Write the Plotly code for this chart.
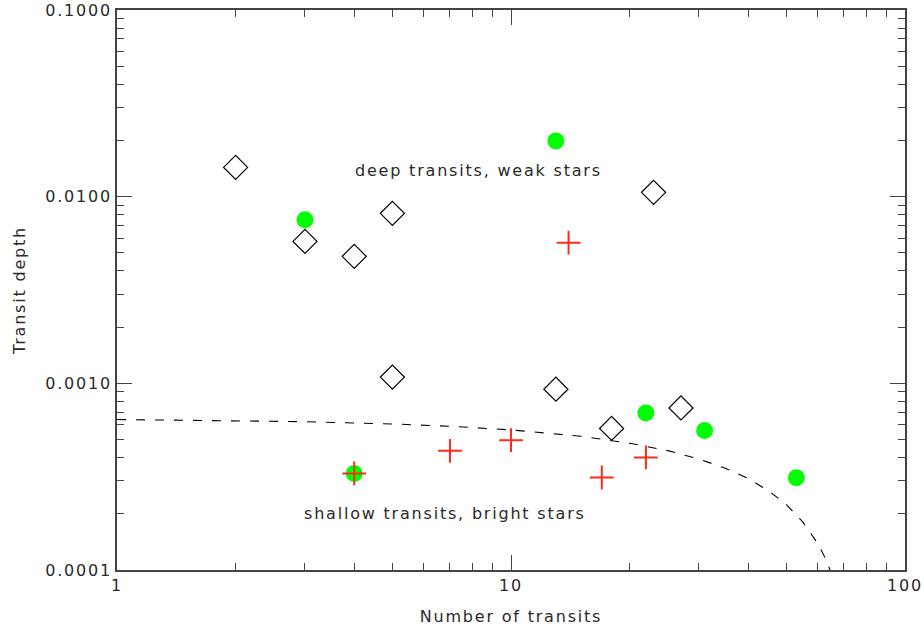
import numpy as np
import plotly.graph_objects as go

# Hollow diamonds
diamond_n = [2, 3, 4, 5, 5, 13, 23, 18, 27]
diamond_depth = [0.01435, 0.00576, 0.00479, 0.00814, 0.00108, 0.00093, 0.01055, 0.000573, 0.000738]

# Filled green circles
circle_n = [3, 13, 4, 22, 31, 53]
circle_depth = [0.00753, 0.0199, 0.000329, 0.000694, 0.000559, 0.000312]

# Red crosses
cross_n = [14, 4, 7, 10, 17, 22]
cross_depth = [0.00567, 0.000329, 0.000435, 0.000496, 0.000313, 0.000401]

# Detection limit curve (dashed)
limit_n = [1, 2, 3, 5, 7, 10, 15, 20, 25, 30, 35, 40, 45, 50, 55, 60, 62, 64, 66]
limit_depth = [0.00064, 0.000631, 0.000623, 0.000606, 0.000589, 0.000563, 0.000521,
               0.000478, 0.000436, 0.000393, 0.000351, 0.000309, 0.000266, 0.000224,
               0.000181, 0.000139, 0.000122, 0.000105, 0.0000848]

x_major = [1, 10, 100]
x_major_text = ["1", "10", "100"]
y_major = [0.0001, 0.001, 0.01, 0.1]
y_major_text = ["0.0001", "0.0010", "0.0100", "0.1000"]

x_minor = [m * d for d in (1, 10) for m in range(2, 10)]
y_minor = [m * d for d in (0.0001, 0.001, 0.01) for m in range(2, 10)]

FONT = "DejaVu Sans"
TXT = "#2a2a2a"
AX = "#444444"
SIZE = 16


def spaced(s, px=1.8):
    """Wrap text in a span with extra letter spacing."""
    return f'<span style="letter-spacing:{px}px">{s}</span>'


fig = go.Figure()

fig.add_trace(go.Scatter(
    x=limit_n, y=limit_depth, mode="lines",
    line=dict(color="black", width=1.1, dash="9px,10px"),
    hoverinfo="skip", showlegend=False))

fig.add_trace(go.Scatter(
    x=diamond_n, y=diamond_depth, mode="markers",
    marker=dict(symbol="diamond-open", size=18.5, color="black",
                line=dict(color="black", width=1.2)),
    showlegend=False))

fig.add_trace(go.Scatter(
    x=circle_n, y=circle_depth, mode="markers",
    marker=dict(symbol="circle", size=17, color="#00ff00",
                line=dict(width=0)),
    showlegend=False))

fig.add_trace(go.Scatter(
    x=cross_n, y=cross_depth, mode="markers",
    marker=dict(symbol="cross-thin-open", size=17, color="#ff2a1a",
                line=dict(color="#ff2a1a", width=2)),
    showlegend=False))

fig.add_annotation(x=np.log10(8.25), y=np.log10(0.01383), xref="x", yref="y",
                   text=spaced("deep transits, weak stars"), showarrow=False,
                   font=dict(family=FONT, size=SIZE, color=TXT))
fig.add_annotation(x=np.log10(6.80), y=np.log10(0.000202), xref="x", yref="y",
                   text=spaced("shallow transits, bright stars"), showarrow=False,
                   font=dict(family=FONT, size=SIZE, color=TXT))

axis_common = dict(
    type="log", showgrid=False, zeroline=False, showline=True, linecolor=AX,
    linewidth=1.5, mirror="ticks", ticks="inside", ticklen=15, tickwidth=1.3,
    tickcolor=AX, automargin=False,
    tickfont=dict(family=FONT, size=SIZE, color=TXT),
)

fig.update_xaxes(
    **axis_common,
    range=[0, 2], tickmode="array", tickvals=x_major,
    ticktext=[spaced(t) for t in x_major_text],
    minor=dict(tickmode="array", tickvals=x_minor, ticks="inside", ticklen=7,
               tickwidth=1.3, tickcolor=AX, showgrid=False),
    title=dict(text=spaced("Number of transits"),
               font=dict(family=FONT, size=SIZE, color=TXT),
               standoff=17),
)
fig.update_yaxes(
    **axis_common,
    range=[-4, -1], tickmode="array", tickvals=y_major,
    ticktext=[spaced(t) for t in y_major_text],
    minor=dict(tickmode="array", tickvals=y_minor, ticks="inside", ticklen=7,
               tickwidth=1.3, tickcolor=AX, showgrid=False),
    title=dict(text=spaced("Transit depth"),
               font=dict(family=FONT, size=SIZE, color=TXT),
               standoff=16),
)

fig.update_layout(
    width=924, height=628,
    margin=dict(l=117, r=19, t=9.5, b=58),
    paper_bgcolor="white", plot_bgcolor="white",
    hovermode=False,
)

fig.write_html("out.html")
